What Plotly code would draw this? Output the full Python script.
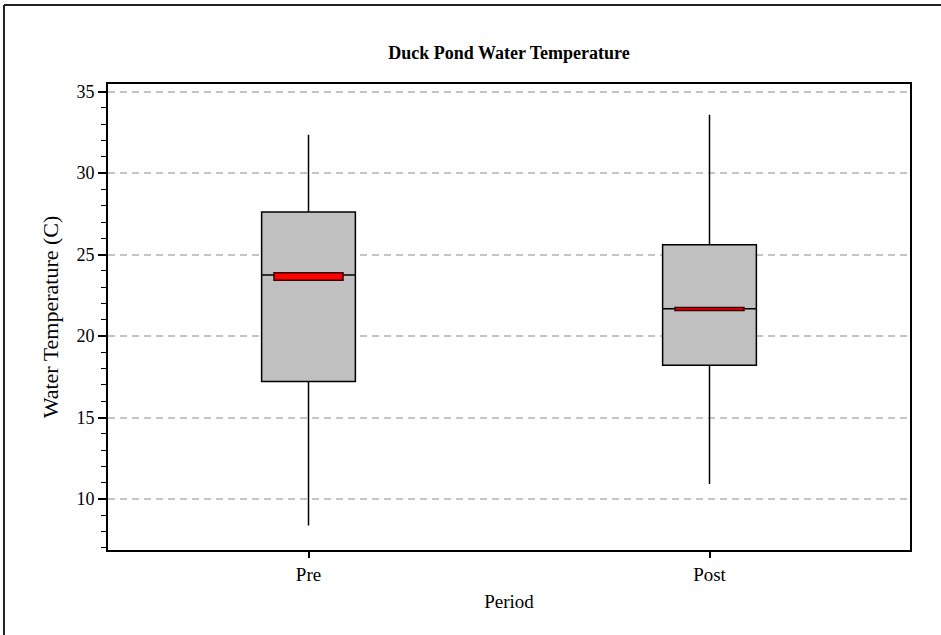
import plotly.graph_objects as go

# ---- data ----
periods = ["Pre", "Post"]
lower_whisker = [8.37, 10.92]
q1 = [17.21, 18.21]
median = [23.75, 21.67]
q3 = [27.62, 25.61]
upper_whisker = [32.36, 33.59]
# red interval bars around the median
ci_low = [23.43, 21.57]
ci_high = [23.89, 21.75]

y_ticks = [10, 15, 20, 25, 30, 35]

FONT = "Liberation Serif"

fig = go.Figure()
fig.add_trace(go.Box(
    x=periods,
    q1=q1, median=median, q3=q3,
    lowerfence=lower_whisker, upperfence=upper_whisker,
    fillcolor="#c0c0c0",
    line=dict(color="black", width=1.5),
    whiskerwidth=0,
    boxpoints=False,
    hoverinfo="skip",
    showlegend=False,
))

bar_half = 0.086
shapes = []
for i, (lo, hi) in enumerate(zip(ci_low, ci_high)):
    shapes.append(dict(
        type="rect", xref="x", yref="y",
        x0=i - bar_half, x1=i + bar_half, y0=lo, y1=hi,
        fillcolor="red", line=dict(color="#3a0000", width=1.5),
        layer="above",
    ))
# outer frame (top and left edges visible in the reference)
frame_style = dict(color="#222222", width=2)
shapes.append(dict(type="line", xref="paper", yref="paper",
                   x0=-0.1297, x1=1.3, y0=1.1695, y1=1.1695, line=frame_style))
shapes.append(dict(type="line", xref="paper", yref="paper",
                   x0=-0.1297, x1=-0.1297, y0=-0.4, y1=1.1695, line=frame_style))

fig.update_layout(
    width=941, height=635,
    margin=dict(l=108, r=31, t=84, b=85),
    paper_bgcolor="white", plot_bgcolor="white",
    boxgap=0.666,
    shapes=shapes,
    font=dict(family=FONT, color="black", size=18),
    title=dict(
        text="<b>Duck Pond Water Temperature</b>",
        x=0.5, xref="paper", xanchor="center",
        y=1 - 53 / 635, yref="container", yanchor="middle",
        font=dict(family=FONT, size=18, color="black"),
    ),
    xaxis=dict(
        title=dict(text="Period", font=dict(family=FONT, size=19), standoff=11),
        range=[-0.5, 1.5],
        showline=True, linecolor="black", linewidth=2, mirror=True,
        ticks="outside", ticklen=6, tickcolor="black", tickwidth=1.5,
        showgrid=False, zeroline=False,
        tickfont=dict(family=FONT, size=19),
    ),
    yaxis=dict(
        title=dict(text="Water Temperature (C)", font=dict(family=FONT, size=22), standoff=12),
        range=[6.87, 35.47],
        tickvals=y_ticks,
        showline=True, linecolor="black", linewidth=2, mirror=True,
        ticks="outside", ticklen=8, tickcolor="black", tickwidth=1.5,
        minor=dict(dtick=1, tick0=0, ticks="outside", ticklen=5, tickcolor="black", tickwidth=1.2, showgrid=False),
        showgrid=True, gridcolor="#c4c4c4", gridwidth=1.5, griddash="7px,5px",
        zeroline=False,
        tickfont=dict(family=FONT, size=18),
    ),
)

fig.write_html("out.html")
